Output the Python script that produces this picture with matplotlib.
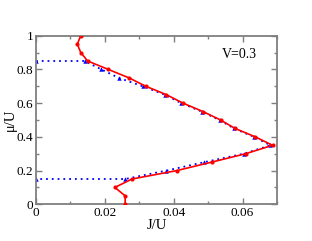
import matplotlib
matplotlib.use("Agg")
import matplotlib.pyplot as plt
from matplotlib.ticker import MultipleLocator

# Red series (solid line, circles)
red_J = [0.0130, 0.0120, 0.0130, 0.0150, 0.0210, 0.0270, 0.0319, 0.0379, 0.0427,
         0.0485, 0.0536, 0.0578, 0.0637, 0.0687, 0.0609, 0.0510, 0.0409, 0.0279,
         0.0229, 0.0259, 0.0259]
red_mu = [1.00, 0.95, 0.90, 0.85, 0.80, 0.75, 0.70, 0.65, 0.60,
          0.55, 0.50, 0.45, 0.40, 0.35, 0.30, 0.25, 0.20, 0.15,
          0.10, 0.05, 0.00]

# Blue series (dotted line, triangles)
blue_J = [0.0, 0.0141, 0.0190, 0.0240, 0.0310, 0.0374, 0.0422, 0.0481, 0.0533,
          0.0575, 0.0633, 0.0681, 0.0603, 0.0489, 0.0379, 0.0259, 0.0]
blue_mu = [0.85, 0.85, 0.80, 0.75, 0.70, 0.65, 0.60, 0.55, 0.50,
           0.45, 0.40, 0.35, 0.30, 0.25, 0.20, 0.15, 0.15]

plt.rcParams['font.family'] = ['Liberation Serif', 'DejaVu Serif']

fig = plt.figure(figsize=(3.12, 2.41), dpi=100)
ax = fig.add_axes([36/312, 1-204.3/241, (277-36)/312, (204.3-35.7)/241])

ax.plot(blue_J, blue_mu, color='#0000ff', linestyle=(0, (1, 2.2)), linewidth=1.3,
        marker='^', markersize=3.2, markeredgewidth=0, zorder=2)
ax.plot(red_J, red_mu, color='#ff0000', linestyle='-', linewidth=1.2,
        marker='o', markersize=3.0, markeredgewidth=0, zorder=3)

ax.set_xlim(0, 0.07)
ax.set_ylim(0, 1)
ax.xaxis.set_major_locator(MultipleLocator(0.02))
ax.xaxis.set_minor_locator(MultipleLocator(0.01))
ax.yaxis.set_major_locator(MultipleLocator(0.2))
ax.yaxis.set_minor_locator(MultipleLocator(0.1))
ax.set_xticks([0, 0.02, 0.04, 0.06])
ax.set_xticklabels(['0', '0.02', '0.04', '0.06'])
ax.set_yticks([0, 0.2, 0.4, 0.6, 0.8, 1.0])
ax.set_yticklabels(['0', '0.2', '0.4', '0.6', '0.8', '1'])

spine_color = '#7f7f7f'
for s in ax.spines.values():
    s.set_color(spine_color)
    s.set_linewidth(1.3)
ax.tick_params(which='both', direction='in', top=True, right=True,
               color=spine_color, labelsize=9.5, width=1.0)
ax.tick_params(which='major', length=4, pad=2)
ax.tick_params(which='minor', length=2.5)

ax.set_xlabel('J/U', fontsize=10.5, labelpad=0)
ax.set_ylabel('μ/U', fontsize=10.5, labelpad=0)

ax.text(0.0591, 0.89, 'V=0.3', fontsize=10, ha='center', va='center')

fig.savefig('out.png', dpi=100)
